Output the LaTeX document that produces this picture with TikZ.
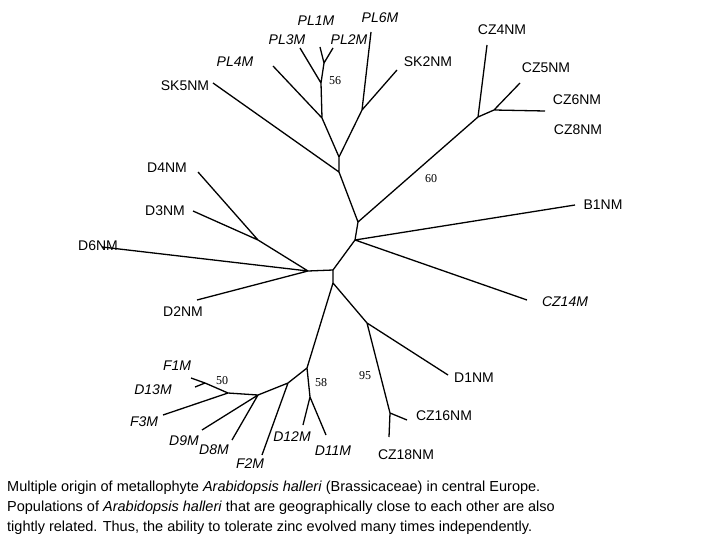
\documentclass[tikz,border=0pt]{standalone}
\usepackage{fontspec}
\setmainfont{Liberation Sans}
\newfontfamily\numfont{Liberation Serif}
\begin{document}
\begin{tikzpicture}[x=1pt,y=-1pt,
  br/.style={line width=1.3pt},
  lab/.style={font=\fontsize{14}{16}\selectfont,inner sep=1pt},
  ilab/.style={lab,font=\fontsize{14}{16}\selectfont\itshape},
  bs/.style={font=\numfont\fontsize{12}{14}\selectfont,inner sep=1pt},
  pt/.style={inner sep=0pt,minimum size=0pt}]
\useasboundingbox (0,0) rectangle (720,540);
% internal points
\foreach \n/\x/\y in {cA/358/222,cA2/355/240,cB/333/270,cL/308/271,jD/258/240,
 t1/339/172,t2/339/157,t3/362/110,t4/322/118,t5/321/83,t6/324/63,
 c1/478/117,c2/494/110,
 b1/333/283,b2/367/323,b3/390/413,b4/307/368,b5/310/397,b6/288/383,b7/258/395,b8/228/393,b9/205/383}
 \coordinate (\n) at (\x,\y);
% leaf ends
\foreach \n/\x/\y in {eSK5/213/83,ePL4/273/66,ePL3/300/48,ePL1/320/47,ePL2/333/48,ePL6/371/32,eSK2/397/70,
 eCZ4/487/45,eCZ5/520/83,eCZ6/545/111,eB1/575/205,eCZ14/527/300,
 eD4/198/172,eD3/193/211,eD6/102/247,eD2/197/300,
 eD1/448/375,eCZ16/407/420,eCZ18/389/437,eD12/303/425,eD11/326/435,
 eF2/262/455,eD8/232/440,eD9/202/430,eF3/163/415,eF1/191/378,eD13/195/387}
 \coordinate (\n) at (\x,\y);
\draw[br] (eSK5)--(t1) (t1)--(cA) (t1)--(t2)--(t3)--(ePL6) (t3)--(eSK2)
 (t2)--(t4)--(ePL4) (t4)--(t5)--(ePL3) (t5)--(t6)--(ePL1) (t6)--(ePL2)
 (cA)--(c1)--(eCZ4) (c1)--(c2)--(eCZ5) (c2)--(eCZ6)
 (cA)--(cA2)--(eB1) (cA2)--(eCZ14) (cA2)--(cB)--(cL)
 (eD4)--(jD) (eD3)--(jD) (jD)--(cL) (eD6)--(cL) (eD2)--(cL)
 (cB)--(b1)--(b2)--(eD1) (b2)--(b3)--(eCZ16) (b3)--(eCZ18)
 (b1)--(b4)--(b5)--(eD12) (b5)--(eD11)
 (b4)--(b6)--(eF2) (b6)--(b7)--(eD8) (b7)--(eD9) (b7)--(b8)--(eF3) (b8)--(b9)--(eF1) (b9)--(eD13);
% labels
\node[ilab] (lPL1) at (316,21) {PL1M};
\node[ilab] (lPL6) at (380,18) {PL6M};
\node[ilab] (lPL3) at (287,40) {PL3M};
\node[ilab] (lPL2) at (349,40) {PL2M};
\node[ilab] (lPL4) at (235,62) {PL4M};
\node[lab] (lSK2) at (428,62) {SK2NM};
\node[lab] (lSK5) at (185,86) {SK5NM};
\node[lab] (lCZ4) at (502,30) {CZ4NM};
\node[lab] (lCZ5) at (546,68) {CZ5NM};
\node[lab] (lCZ6) at (577,100) {CZ6NM};
\node[lab] (lCZ8) at (578,130) {CZ8NM};
\node[lab] (lB1) at (603,205) {B1NM};
\node[ilab] (lCZ14) at (565,302) {CZ14M};
\node[lab] (lD4) at (167,168) {D4NM};
\node[lab] (lD3) at (165,211) {D3NM};
\node[lab] (lD6) at (98,246) {D6NM};
\node[lab] (lD2) at (183,312) {D2NM};
\node[lab] (lD1) at (474,378) {D1NM};
\node[lab] (lCZ16) at (444,416) {CZ16NM};
\node[lab] (lCZ18) at (406,455) {CZ18NM};
\node[ilab] (lD12) at (292,437) {D12M};
\node[ilab] (lD11) at (333,451) {D11M};
\node[ilab] (lF2) at (250,464) {F2M};
\node[ilab] (lD8) at (214,450) {D8M};
\node[ilab] (lD9) at (184,441) {D9M};
\node[ilab] (lF3) at (144,422) {F3M};
\node[ilab] (lD13) at (153,390) {D13M};
\node[ilab] (lF1) at (177,366) {F1M};
\node[bs] (n56) at (335,81) {56};
\node[bs] (n60) at (431,179) {60};
\node[bs] (n95) at (365,376) {95};
\node[bs] (n58) at (321,383) {58};
\node[bs] (n50) at (222,381) {50};
\node[anchor=north west,align=left,inner sep=0pt,font=\fontsize{14.5}{20}\selectfont] (cap) at (7,481)
 {Multiple origin of metallophyte \textit{Arabidopsis halleri} (Brassicaceae) in central Europe.\\
 Populations of \textit{Arabidopsis halleri} that are geographically close to each other are also\\
 tightly related. Thus, the ability to tolerate zinc evolved many times independently.};
\end{tikzpicture}
\end{document}
